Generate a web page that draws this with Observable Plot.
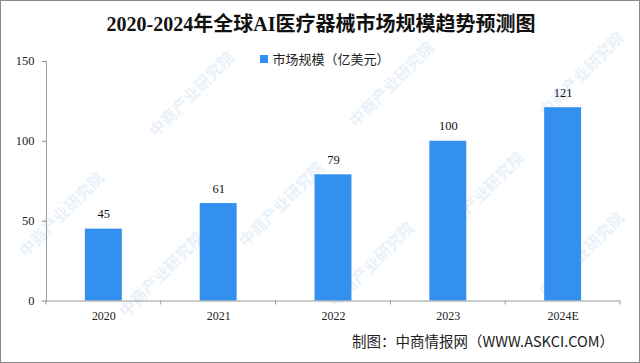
<!DOCTYPE html>
<html><head><meta charset="utf-8">
<script src="https://cdn.jsdelivr.net/npm/d3@7"></script>
<script src="https://cdn.jsdelivr.net/npm/@observablehq/plot@0.6"></script>
<style>
html,body{margin:0;padding:0;background:#fff;}
#wrap{position:relative;width:640px;height:363px;overflow:hidden;box-sizing:border-box;border:1px solid #8a8a8a;background:#fff;}
#chart{position:absolute;left:-1px;top:-1px;}
.t{position:absolute;white-space:nowrap;}
#title{left:0;width:640px;top:7px;text-align:center;font:bold 20px "Liberation Serif","Noto Sans CJK SC",serif;color:#111;}
#legend{left:4px;width:640px;top:48px;text-align:center;font:13px "Noto Sans CJK SC",sans-serif;color:#222;}
#legend span.sw{display:inline-block;width:8px;height:8px;background:#3390EE;margin-right:4px;vertical-align:1px;}
#caption{right:25px;top:329px;font:14.5px "Noto Sans CJK SC",sans-serif;color:#222;}
.wm{position:absolute;font:bold 16px "Noto Sans CJK SC",sans-serif;color:#c9ddf2;opacity:.4;transform:rotate(-45deg);transform-origin:left center;white-space:nowrap;}
</style></head>
<body>
<div id="wrap"><div id="chart"></div></div>
<script>
const years = ["2020","2021","2022","2023","2024E"];
const values = [45, 61, 79, 100, 121];
const yTicks = [0, 50, 100, 150];
const titleText = "2020-2024年全球AI医疗器械市场规模趋势预测图";
const legendText = "市场规模（亿美元）";
const captionText = "制图：中商情报网（WWW.ASKCI.COM）";
const watermarkText = "中商产业研究院";

const data = years.map((y, i) => ({year: y, value: values[i]}));

const chart = Plot.plot({
  width: 640, height: 363,
  marginLeft: 46, marginRight: 19, marginTop: 61, marginBottom: 62,
  style: {background: "transparent", fontFamily: "'Liberation Serif','Noto Sans CJK SC',serif", fontSize: "12px", color: "#222"},
  x: {domain: years, paddingInner: 0.68, paddingOuter: 0.34, label: null},
  y: {domain: [0, 150], ticks: yTicks, label: null},
  marks: [
    Plot.barY(data, {x: "year", y: "value", fill: "#3390EE"}),
    Plot.text(data, {x: "year", y: "value", text: d => String(d.value), dy: -15, fontSize: 12.5, fill: "#111"}),
    Plot.axisY({ticks: yTicks, tickSize: 4, tickPadding: 8, stroke: "#888", fontSize: 12.5, fill: "#222"}),
    Plot.axisX({tickSize: 0, tickPadding: 10, fontSize: 12, fill: "#222"}),
    Plot.ruleY([0], {stroke: "#999"}),
    Plot.frame({anchor: "left", stroke: "#999"})
  ]
});
document.getElementById("chart").appendChild(chart);

// band boundary ticks on the x axis, derived from the x scale
const xs = chart.scale("x");
const ys = chart.scale("y");
const svg = d3.select(chart);
const y0 = ys.apply(0);
const gap = xs.step - xs.bandwidth;
const bounds = years.map(y => xs.apply(y) - gap / 2).concat([xs.apply(years[years.length-1]) + xs.bandwidth + gap / 2]);
svg.append("g").selectAll("line").data(bounds).join("line")
  .attr("x1", d => d).attr("x2", d => d).attr("y1", y0).attr("y2", y0 + 4)
  .attr("stroke", "#999");

const wrap = document.getElementById("wrap");
function addText(id, html){ const d=document.createElement("div"); d.className="t"; d.id=id; d.innerHTML=html; wrap.appendChild(d); }
addText("title", titleText);
addText("legend", '<span class="sw"></span>' + legendText);
addText("caption", captionText);

// faint diagonal watermarks, kept inside the picture
const wmPos = [[150,120],[350,110],[540,100],[20,240],[240,230],[440,220],[120,300],[330,290],[540,280]];
wmPos.forEach(([x,y]) => { const d=document.createElement("div"); d.className="wm"; d.style.left=x+"px"; d.style.top=y+"px"; d.textContent=watermarkText; wrap.insertBefore(d, wrap.firstChild); });
</script>
</body></html>
